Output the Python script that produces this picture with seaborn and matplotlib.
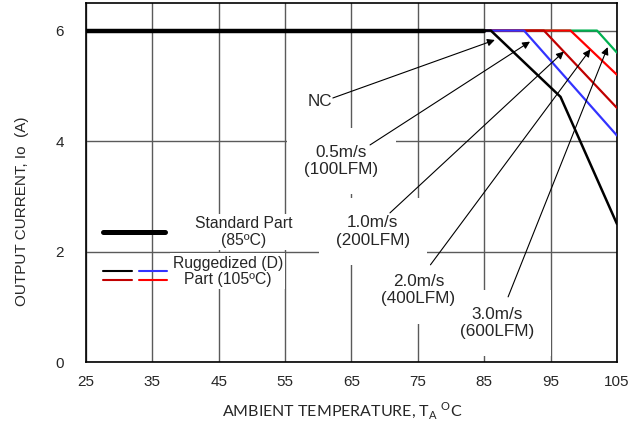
import matplotlib
matplotlib.use("Agg")
import matplotlib.pyplot as plt
import seaborn as sns
import pandas as pd

# derating curves
std_temp = [25, 85]
std_curr = [6, 6]

nc_temp = [25, 86, 96.5, 105]
nc_curr = [6, 6, 4.8, 2.5]

v05_temp = [25, 91, 105]
v05_curr = [6, 6, 4.1]

v10_temp = [25, 94, 105]
v10_curr = [6, 6, 4.6]

v20_temp = [25, 98, 105]
v20_curr = [6, 6, 5.2]

v30_temp = [25, 102, 105]
v30_curr = [6, 6, 5.6]

flow_labels = ["NC", "0.5m/s\n(100LFM)", "1.0m/s\n(200LFM)", "2.0m/s\n(400LFM)", "3.0m/s\n(600LFM)"]
x_ticks = [25, 35, 45, 55, 65, 75, 85, 95, 105]
y_ticks = [0, 2, 4, 6]

sns.set_style("white")
plt.rcParams["font.family"] = ["Liberation Sans", "DejaVu Sans"]

fig = plt.figure(figsize=(6.44, 4.21), dpi=100)
ax = fig.add_axes([0.1335, 0.140, 0.8245, 0.853])

# draw later-derating curves first so earlier ones sit on top along the flat 6A part
curves = [
    (v30_temp, v30_curr, "#00B050", 1.6),
    (v20_temp, v20_curr, "#FF0000", 1.6),
    (v10_temp, v10_curr, "#C00000", 1.6),
    (v05_temp, v05_curr, "#3333FF", 1.6),
    (nc_temp, nc_curr, "black", 1.8),
]
z = 3
for t, c, col, lw in curves:
    df = pd.DataFrame({"temp": t, "curr": c})
    sns.lineplot(data=df, x="temp", y="curr", color=col, lw=lw, sort=False, ax=ax, zorder=z)
    z += 0.1
sns.lineplot(x=std_temp, y=std_curr, color="black", lw=3.2, ax=ax, zorder=4)

ax.set_xlim(25, 105)
ax.set_ylim(0, 6.5)
ax.set_xticks(x_ticks)
ax.set_yticks(y_ticks)
ax.tick_params(length=0, labelsize=11)
ax.tick_params(axis="x", pad=9)
ax.tick_params(axis="y", pad=16)
ax.grid(True, color="#5a5a5a", lw=1)
ax.set_axisbelow(True)
for s in ax.spines.values():
    s.set_color("black")
    s.set_linewidth(1.2)

ax.set_xlabel(r"AMBIENT TEMPERATURE, T$_\mathregular{A}$ $^\mathregular{O}$C",
              fontsize=11.5, family=["Lato", "DejaVu Sans"])
ax.xaxis.set_label_coords(0.482, -0.105)
ax.set_ylabel("OUTPUT CURRENT, Io  (A)", fontsize=11)
ax.yaxis.set_label_coords(-0.108, 0.42)

# airflow labels with arrows pointing at each curve
text_pos = [(60.2, 4.71), (63.5, 3.64), (68.2, 2.36), (75.1, 1.30), (86.9, 0.71)]
tails = [(62.2, 4.78), (67.8, 3.93), (70.8, 2.70), (76.9, 1.76), (88.6, 1.18)]
heads = [(86.6, 5.83), (91.9, 5.80), (97.0, 5.62), (101.0, 5.66), (103.6, 5.70)]
for lab, tp, tl, hd in zip(flow_labels, text_pos, tails, heads):
    # white box first (hides the grid), then the text on top of every box
    ax.text(tp[0], tp[1], lab, ha="center", va="center", fontsize=12.3, zorder=2,
            linespacing=1.2, color="none",
            bbox=dict(boxstyle="square,pad=1.0", fc="white", ec="none"))
    ax.text(tp[0], tp[1], lab, ha="center", va="center", fontsize=12.3, zorder=2.5,
            linespacing=1.2)
    ax.annotate("", xy=hd, xytext=tl, zorder=5,
                arrowprops=dict(arrowstyle="-|>", color="black", lw=0.8,
                                mutation_scale=11, shrinkA=0, shrinkB=0))

# hand drawn style legend
ax.plot([0.032, 0.149], [0.362, 0.362], transform=ax.transAxes, color="black", lw=3.6, zorder=4)
ax.plot([0.032, 0.087], [0.254, 0.254], transform=ax.transAxes, color="black", lw=1.5, zorder=4)
ax.plot([0.100, 0.153], [0.254, 0.254], transform=ax.transAxes, color="#3333FF", lw=1.5, zorder=4)
ax.plot([0.032, 0.087], [0.228, 0.228], transform=ax.transAxes, color="#C00000", lw=1.5, zorder=4)
ax.plot([0.100, 0.153], [0.228, 0.228], transform=ax.transAxes, color="#FF0000", lw=1.5, zorder=4)
ax.text(0.297, 0.362, "Standard Part\n(85ºC)", transform=ax.transAxes, ha="center", va="center",
        fontsize=11.3, linespacing=1.1, zorder=2,
        bbox=dict(boxstyle="square,pad=0.15", fc="white", ec="none"))
ax.text(0.267, 0.253, "Ruggedized (D)\nPart (105ºC)", transform=ax.transAxes, ha="center", va="center",
        fontsize=11.3, linespacing=1.1, zorder=2,
        bbox=dict(boxstyle="square,pad=0.15", fc="white", ec="none"))

fig.savefig("out.png", dpi=100)
